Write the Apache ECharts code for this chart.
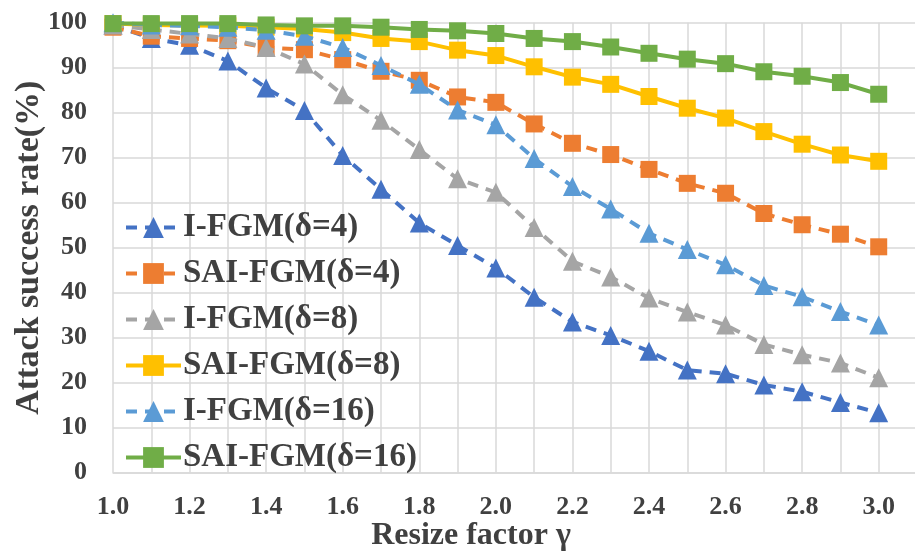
<!DOCTYPE html>
<html>
<head>
<meta charset="utf-8">
<script src="https://cdn.jsdelivr.net/npm/echarts@6/dist/echarts.min.js"></script>
<style>
html,body{margin:0;padding:0;background:#fff;}
#chart{width:915px;height:553px;}
</style>
</head>
<body>
<div id="chart"></div>
<script>
const xValues = [1.0,1.1,1.2,1.3,1.4,1.5,1.6,1.7,1.8,1.9,2.0,2.1,2.2,2.3,2.4,2.5,2.6,2.7,2.8,2.9,3.0];
const iFgm4   = [99.5,96.5,95,91.5,85.5,80.5,70.5,63,55.5,50.5,45.5,39,33.5,30.5,27,22.8,22,19.5,18,15.6,13.3];
const saiFgm4 = [99,97,96.5,96,94.5,94,91.8,89.2,87.2,83.5,82.3,77.5,73.2,70.7,67.4,64.3,62.1,57.6,55.1,53,50.2];
const iFgm8   = [99.5,98.5,97.5,96.5,94.5,90.8,84,78.3,71.8,65.3,62.3,54.5,47,43.5,38.8,35.7,32.8,28.5,26.2,24.4,21.1];
const saiFgm8 = [99.8,99.5,99.4,99.3,99,98.6,97.8,96.5,95.8,93.9,92.7,90.2,87.9,86.3,83.6,81,78.8,75.8,73,70.6,69.2];
const iFgm16  = [100,99.5,99.3,99,98.3,97,94.5,90.5,86.3,80.6,77.3,69.8,63.6,58.6,53.2,49.6,46.2,41.6,39.1,35.8,32.8];
const saiFgm16= [99.8,99.8,99.8,99.8,99.5,99.3,99.3,99,98.5,98.2,97.6,96.5,95.8,94.6,93.2,91.9,90.9,89.1,88.1,86.7,84.1];
const seriesNames = ['I-FGM(δ=4)','SAI-FGM(δ=4)','I-FGM(δ=8)','SAI-FGM(δ=8)','I-FGM(δ=16)','SAI-FGM(δ=16)'];
const seriesValues = [iFgm4, saiFgm4, iFgm8, saiFgm8, iFgm16, saiFgm16];
const colors = ['#4472C4','#ED7D31','#A5A5A5','#FFC000','#5B9BD5','#70AD47'];
const dashed = [true,true,true,false,true,false];
const symbols = ['triangle','rect','triangle','rect','triangle','rect'];
const xAxisTitle = 'Resize factor γ';
const yAxisTitle = 'Attack success rate(%)';

const FONT = "'Liberation Serif','Times New Roman',serif";
const TXT = '#404040';

const series = seriesNames.map((name, i) => ({
  name: name,
  type: 'line',
  data: xValues.map((x, j) => [x, seriesValues[i][j]]),
  symbol: symbols[i],
  symbolSize: symbols[i] === 'rect' ? 17 : 19,
  color: colors[i],
  lineStyle: { width: 4, type: dashed[i] ? [11, 8] : 'solid', color: colors[i] },
  itemStyle: { color: colors[i] },
  z: 2 + i,
  animation: false
}));

const chart = echarts.init(document.getElementById('chart'));
chart.setOption({
  animation: false,
  backgroundColor: '#fff',
  grid: { left: 113, right: -2, top: 22.7, bottom: 80.3, outerBoundsMode: 'none', containLabel: false },
  xAxis: {
    type: 'value', min: 1.0, max: 3.1, interval: 0.1,
    name: xAxisTitle, nameLocation: 'middle', nameGap: 47, nameMoveOverlap: false,
    nameTextStyle: { fontFamily: FONT, fontWeight: 'bold', fontSize: 32, color: TXT, padding: [0, 88, 0, 0] },
    axisLine: { show: true, lineStyle: { color: '#d9d9d9', width: 1.5 } },
    axisTick: { show: false },
    splitLine: { show: true, lineStyle: { color: '#d9d9d9', width: 1.5 } },
    axisLabel: {
      fontFamily: FONT, fontWeight: 'bold', fontSize: 26, color: TXT, margin: 22,
      showMaxLabel: true, showMinLabel: true,
      formatter: v => (Math.round(v * 10) % 2 === 0 && v <= 3.001) ? v.toFixed(1) : ''
    }
  },
  yAxis: {
    type: 'value', min: 0, max: 100, interval: 10,
    name: yAxisTitle, nameLocation: 'middle', nameGap: 67, nameMoveOverlap: false,
    nameTextStyle: { fontFamily: FONT, fontWeight: 'bold', fontSize: 34, color: TXT },
    axisLine: { show: false },
    axisTick: { show: false },
    splitLine: { show: true, lineStyle: { color: '#d9d9d9', width: 1.5 } },
    axisLabel: { fontFamily: FONT, fontWeight: 'bold', fontSize: 26, color: TXT, margin: 26 }
  },
  legend: {
    orient: 'vertical', left: 119, top: 206,
    itemWidth: 55, itemHeight: 26, itemGap: 13,
    data: seriesNames,
    lineStyle: { width: 4 },
    textStyle: { fontFamily: FONT, fontWeight: 'bold', fontSize: 33, lineHeight: 33, color: TXT, padding: [0, 0, 0, -3] }
  },
  series: series
});
</script>
</body>
</html>
